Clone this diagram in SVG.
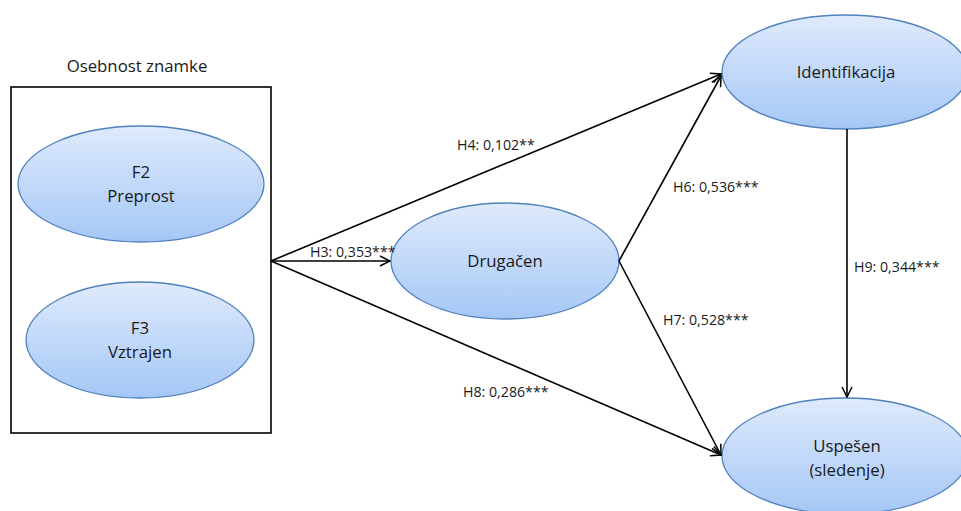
<svg xmlns="http://www.w3.org/2000/svg" width="961" height="511" viewBox="0 0 961 511">
<style>
.node ellipse{fill:url(#g);stroke:#4f81bd;stroke-width:1.3}
.nt{font-family:"Open Sans","Liberation Sans",sans-serif;font-size:16.8px;fill:#1a1a1a;text-anchor:middle}
.lb{font-family:"Open Sans","Liberation Sans",sans-serif;font-size:14.2px;fill:#1a1a1a}
.c line{stroke:#000;stroke-width:1.6;marker-end:url(#a)}
</style>
<defs>
<linearGradient id="g" x1="0" y1="0" x2="0" y2="1">
<stop offset="0" stop-color="#dfeafc"/>
<stop offset="1" stop-color="#a5c7f6"/>
</linearGradient>
<marker id="a" viewBox="0 0 12 12" refX="11" refY="6" markerWidth="12" markerHeight="12" markerUnits="userSpaceOnUse" orient="auto">
<path d="M1,1 L11,6 L1,11" fill="none" stroke="#000" stroke-width="1.5"/>
</marker>
</defs>
<rect width="961" height="511" fill="#fff"/>
<g id="group-box">
<rect x="11" y="87" width="260" height="346" fill="#fff" stroke="#000" stroke-width="1.6"/>
<text class="nt" x="137" y="72">Osebnost znamke</text>
</g>
<g id="F2" class="node">
<ellipse cx="141" cy="184" rx="123" ry="58"/>
<text class="nt" x="141" y="178">F2</text>
<text class="nt" x="141" y="202">Preprost</text>
</g>
<g id="F3" class="node">
<ellipse cx="140" cy="340" rx="114" ry="58"/>
<text class="nt" x="140" y="334">F3</text>
<text class="nt" x="140" y="358">Vztrajen</text>
</g>
<g id="Drugacen" class="node">
<ellipse cx="505" cy="261" rx="114" ry="58"/>
<text class="nt" x="505" y="267">Drugačen</text>
</g>
<g id="Identifikacija" class="node">
<ellipse cx="845" cy="72" rx="123" ry="57"/>
<text class="nt" x="846" y="78">Identifikacija</text>
</g>
<g id="Uspesen" class="node">
<ellipse cx="845" cy="456" rx="123" ry="58"/>
<text class="nt" x="847" y="452">Uspešen</text>
<text class="nt" x="847" y="476">(sledenje)</text>
</g>
<g id="connectors" class="c">
<line x1="271" y1="261" x2="721" y2="74"/>
<line x1="271" y1="261" x2="390" y2="261"/>
<line x1="271" y1="261" x2="721" y2="455"/>
<line x1="619" y1="261" x2="721" y2="76"/>
<line x1="619" y1="261" x2="721" y2="455"/>
<line x1="847" y1="129" x2="847" y2="397"/>
</g>
<g id="labels">
<text class="lb" x="457" y="150">H4: 0,102**</text>
<text class="lb" x="310" y="257">H3: 0,353***</text>
<text class="lb" x="673" y="192">H6: 0,536***</text>
<text class="lb" x="663" y="325">H7: 0,528***</text>
<text class="lb" x="463" y="397">H8: 0,286***</text>
<text class="lb" x="854" y="272">H9: 0,344***</text>
</g>
</svg>
